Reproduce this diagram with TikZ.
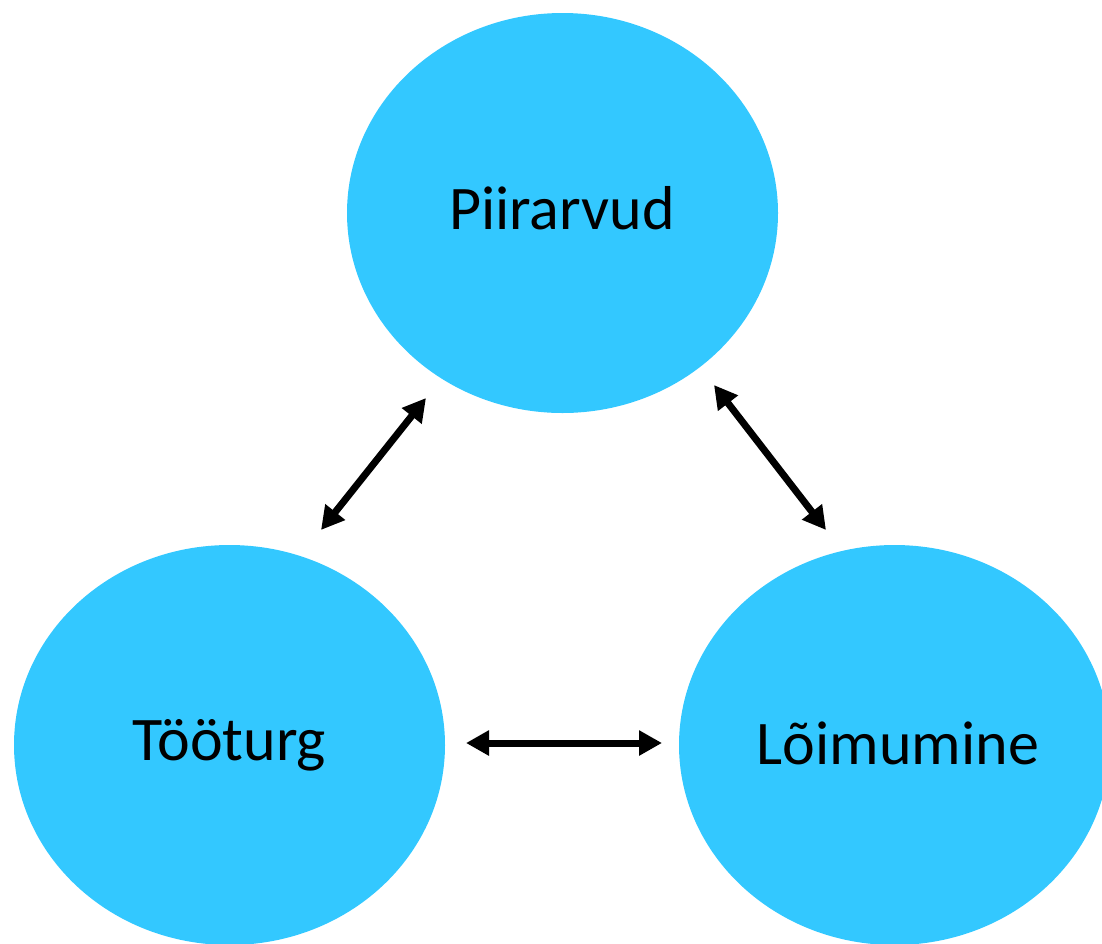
\documentclass[tikz,border=0pt]{standalone}
\usepackage{fontspec}
\setmainfont{Carlito}
\usetikzlibrary{shapes.geometric,arrows.meta}
\definecolor{blob}{HTML}{33C8FF}
\begin{document}
\begin{tikzpicture}[x=1pt,y=-1pt,
  blobnode/.style={ellipse,fill=blob,draw=none,minimum width=431pt,minimum height=400pt,inner sep=0pt},
  labelnode/.style={anchor=base,inner sep=0pt,font=\fontsize{62}{70}\selectfont,text=black},
  link/.style={line width=7pt,{Triangle[length=23pt,width=24pt]}-{Triangle[length=23pt,width=24pt]}}]
\useasboundingbox (0,0) rectangle (1102,943);
\begin{scope}
\clip (0,0) rectangle (1102,943);
\node[blobnode] (top) at (562.5,213) {};
\node[blobnode] (left) at (229.5,745) {};
\node[blobnode] (right) at (894.5,745) {};
\end{scope}
\node[labelnode] (ttop) at (562,229) {Piirarvud};
\node[labelnode] (tleft) at (229.5,760) {Tööturg};
\node[labelnode] (tright) at (898,764) {Lõimumine};
\coordinate (a1) at (426,398);
\coordinate (a2) at (321,530);
\coordinate (b1) at (714,385);
\coordinate (b2) at (826,530);
\coordinate (c1) at (466,743);
\coordinate (c2) at (662,743);
\draw[link] (a2) -- (a1);
\draw[link] (b1) -- (b2);
\draw[link] (c1) -- (c2);
\end{tikzpicture}
\end{document}
